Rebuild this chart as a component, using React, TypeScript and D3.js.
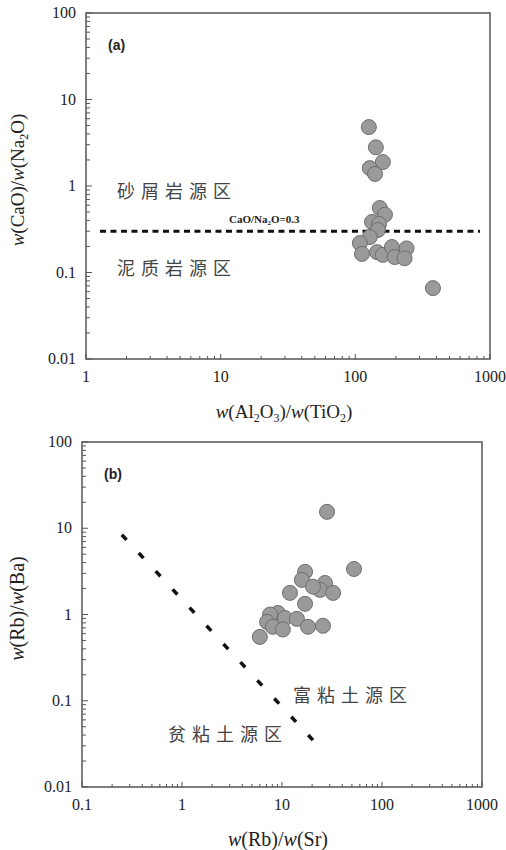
import * as d3 from "d3"

// panel (a): Al2O3/TiO2 vs CaO/Na2O
const aRatioAlTi = [126, 142, 160, 128, 140, 152, 166, 133, 150, 147, 128, 108, 112, 145, 160, 187, 196, 240, 232, 377]
const aRatioCaNa = [4.8, 2.8, 1.89, 1.61, 1.38, 0.557, 0.466, 0.384, 0.364, 0.31, 0.257, 0.219, 0.164, 0.172, 0.16, 0.197, 0.151, 0.19, 0.146, 0.066]

// panel (b): Rb/Sr vs Rb/Ba
const bRatioRbSr = [28.2, 52.5, 17, 15.8, 26.9, 24, 32.4, 20.4, 12, 17, 9.1, 7.6, 10.7, 14.1, 7.1, 8.1, 10.2, 18.2, 25.7, 6.0]
const bRatioRbBa = [15.5, 3.37, 3.12, 2.52, 2.32, 1.93, 1.78, 2.1, 1.78, 1.33, 1.04, 1.0, 0.91, 0.89, 0.82, 0.72, 0.67, 0.72, 0.74, 0.55]

const yTicks = [0.01, 0.1, 1, 10, 100]
const yTickLabels = ["0.01", "0.1", "1", "10", "100"]
const aXTicks = [1, 10, 100, 1000]
const aXTickLabels = ["1", "10", "100", "1000"]
const bXTicks = [0.1, 1, 10, 100, 1000]
const bXTickLabels = ["0.1", "1", "10", "100", "1000"]

// boundary lines
const aLimit = 0.3
const aLimitX = [1.27, 842]
const bLineX = [0.25, 20.4]
const bLineY = [8.4, 0.035]
const bDashCount = 12

const serif = "'Liberation Serif', 'DejaVu Serif', serif"
const cjk = "'Noto Sans CJK SC', sans-serif"
const axisColor = "#555"
const pointFill = "#9a9a9a"
const pointStroke = "#6e6e6e"

function minorTicks(domain: number[]) {
    const out: number[] = []
    const lo = Math.round(Math.log10(domain[0]))
    const hi = Math.round(Math.log10(domain[1]))
    for (let e = lo; e < hi; e++) {
        for (let k = 2; k <= 9; k++) out.push(k * Math.pow(10, e))
    }
    return out
}

type PanelProps = {
    top: number
    left: number
    right: number
    bottom: number
    xDomain: number[]
    xTicks: number[]
    xLabels: string[]
    xs: number[]
    ys: number[]
    tag: string
    titleSize: number
    children?: (x: d3.ScaleLogarithmic<number, number>, y: d3.ScaleLogarithmic<number, number>) => any
    xTitle: any
    yTitle: any
}

function Panel(p: PanelProps) {
    const x = d3.scaleLog().domain(p.xDomain).range([p.left, p.right])
    const y = d3.scaleLog().domain([0.01, 100]).range([p.bottom, p.top])
    const midX = (p.left + p.right) / 2
    const midY = (p.top + p.bottom) / 2
    return (
        <g>
            {/* minor ticks, inward */}
            {minorTicks([0.01, 100]).map((t, i) => (
                <line key={"ym" + i} x1={p.left} x2={p.left + 4} y1={y(t)} y2={y(t)} stroke={axisColor} strokeWidth={1} />
            ))}
            {minorTicks(p.xDomain).map((t, i) => (
                <line key={"xm" + i} x1={x(t)} x2={x(t)} y1={p.bottom} y2={p.bottom - 3} stroke={axisColor} strokeWidth={1} />
            ))}
            {yTicks.map((t, i) => (
                <g key={"yt" + i}>
                    <line x1={p.left} x2={p.left + 6} y1={y(t)} y2={y(t)} stroke={axisColor} />
                    <text x={p.left - 10} y={y(t) + 5} textAnchor="end" fontSize={16} fontFamily={serif} fill="#222">
                        {yTickLabels[i]}
                    </text>
                </g>
            ))}
            {p.xTicks.map((t, i) => (
                <g key={"xt" + i}>
                    <line x1={x(t)} x2={x(t)} y1={p.bottom} y2={p.bottom - 5} stroke={axisColor} />
                    <text x={x(t)} y={p.bottom + 23} textAnchor="middle" fontSize={16} fontFamily={serif} fill="#222">
                        {p.xLabels[i]}
                    </text>
                </g>
            ))}
            <rect x={p.left} y={p.top} width={p.right - p.left} height={p.bottom - p.top} fill="none" stroke={axisColor} strokeWidth={1.5} />

            {p.children && p.children(x, y)}

            {p.xs.map((v, i) => (
                <circle key={"pt" + i} cx={x(v)} cy={y(p.ys[i])} r={7.5} fill={pointFill} stroke={pointStroke} strokeWidth={1} />
            ))}

            <text x={p.left + 22} y={p.top + 37} fontSize={14} fontWeight="bold" fontFamily="'Liberation Sans', Arial, sans-serif" fill="#222">
                {p.tag}
            </text>

            <text x={midX - 4} y={p.bottom + 59} textAnchor="middle" fontSize={p.titleSize} fontFamily={serif} fill="#222">
                {p.xTitle}
            </text>
            <text transform={`translate(${24},${midY - 6}) rotate(-90)`} textAnchor="middle" fontSize={p.titleSize} fontFamily={serif} fill="#222">
                {p.yTitle}
            </text>
        </g>
    )
}

const sub = (s: string) => (
    <tspan fontSize={12} dy={4}>{s}</tspan>
)

export default function App() {
    return (
        <svg
            width={506}
            height={850}
            style={{ position: "absolute", left: 0, top: 0, display: "block", background: "#fff" }}
        >
            <Panel
                top={13}
                left={86}
                right={490}
                bottom={359}
                xDomain={[1, 1000]}
                xTicks={aXTicks}
                xLabels={aXTickLabels}
                xs={aRatioAlTi}
                ys={aRatioCaNa}
                tag="(a)"
                titleSize={19}
                xTitle={
                    <>
                        <tspan fontStyle="italic">w</tspan>(Al{sub("2")}<tspan dy={-4}>O</tspan>{sub("3")}<tspan dy={-4}>)/</tspan>
                        <tspan fontStyle="italic">w</tspan>(TiO{sub("2")}<tspan dy={-4}>)</tspan>
                    </>
                }
                yTitle={
                    <>
                        <tspan fontStyle="italic">w</tspan>(CaO)/<tspan fontStyle="italic">w</tspan>(Na{sub("2")}<tspan dy={-4}>O)</tspan>
                    </>
                }
            >
                {(x, y) => (
                    <g>
                        <line
                            x1={x(aLimitX[0])}
                            x2={x(aLimitX[1])}
                            y1={y(aLimit)}
                            y2={y(aLimit)}
                            stroke="#111"
                            strokeWidth={2.8}
                            strokeDasharray="6 4.5"
                        />
                        <text x={229} y={y(aLimit) - 8} fontSize={11} fontWeight="bold" fontFamily={serif} fill="#222">
                            CaO/Na<tspan fontSize={7} dy={2}>2</tspan><tspan dy={-2}>O=0.3</tspan>
                        </text>
                        <text x={117} y={y(1) + 12} fontSize={18} letterSpacing={6} fontFamily={cjk} fill="#444">
                            砂屑岩源区
                        </text>
                        <text x={117} y={y(0.1) + 2} fontSize={18} letterSpacing={6} fontFamily={cjk} fill="#444">
                            泥质岩源区
                        </text>
                    </g>
                )}
            </Panel>

            <Panel
                top={442}
                left={82}
                right={482}
                bottom={787}
                xDomain={[0.1, 1000]}
                xTicks={bXTicks}
                xLabels={bXTickLabels}
                xs={bRatioRbSr}
                ys={bRatioRbBa}
                tag="(b)"
                titleSize={20}
                xTitle={
                    <>
                        <tspan fontStyle="italic">w</tspan>(Rb)/<tspan fontStyle="italic">w</tspan>(Sr)
                    </>
                }
                yTitle={
                    <>
                        <tspan fontStyle="italic">w</tspan>(Rb)/<tspan fontStyle="italic">w</tspan>(Ba)
                    </>
                }
            >
                {(x, y) => {
                    const x0 = x(bLineX[0]), y0 = y(bLineY[0])
                    const x1 = x(bLineX[1]), y1 = y(bLineY[1])
                    const len = Math.hypot(x1 - x0, y1 - y0)
                    const ux = (x1 - x0) / len, uy = (y1 - y0) / len
                    const dash = 7
                    const step = (len - dash) / (bDashCount - 1)
                    return (
                        <g>
                            {d3.range(bDashCount).map((i) => {
                                const sx = x0 + ux * step * i
                                const sy = y0 + uy * step * i
                                return (
                                    <line
                                        key={"d" + i}
                                        x1={sx}
                                        y1={sy}
                                        x2={sx + ux * dash}
                                        y2={sy + uy * dash}
                                        stroke="#111"
                                        strokeWidth={3.5}
                                    />
                                )
                            })}
                            <text x={293} y={702} fontSize={18} letterSpacing={6} fontFamily={cjk} fill="#444">
                                富粘土源区
                            </text>
                            <text x={168} y={741} fontSize={18} letterSpacing={6} fontFamily={cjk} fill="#444">
                                贫粘土源区
                            </text>
                        </g>
                    )
                }}
            </Panel>
        </svg>
    )
}
